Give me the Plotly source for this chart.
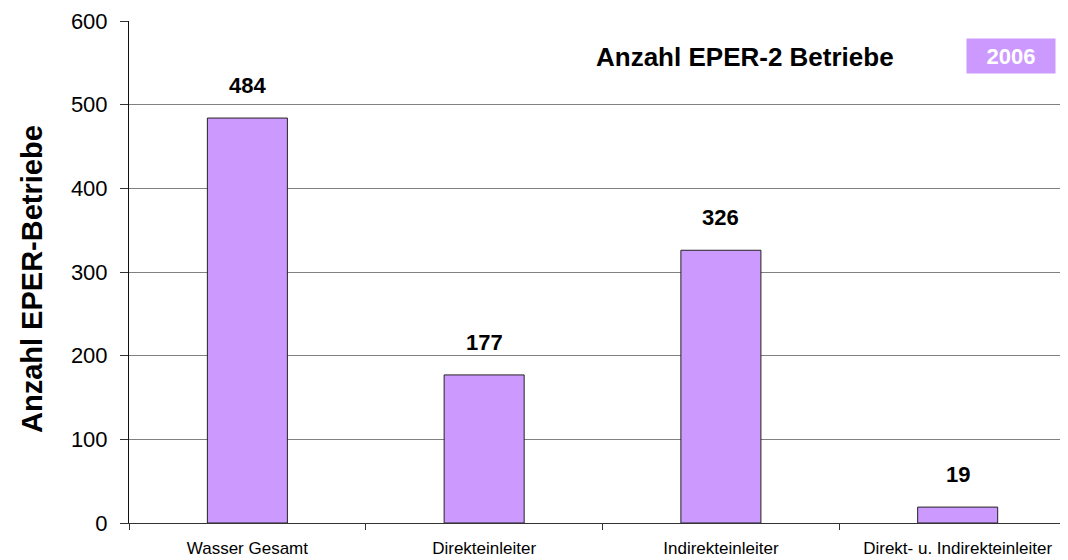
import plotly.graph_objects as go

categories = ["Wasser Gesamt", "Direkteinleiter", "Indirekteinleiter", "Direkt- u. Indirekteinleiter"]
values = [484, 177, 326, 19]
y_ticks = [0, 100, 200, 300, 400, 500, 600]
y_title = "Anzahl EPER-Betriebe"
chart_title = "Anzahl EPER-2 Betriebe"
year_label = "2006"

fig = go.Figure()
fig.add_trace(go.Bar(
    x=categories, y=values, width=0.338,
    marker=dict(color="#CC99FF", line=dict(color="#222222", width=1)),
    hoverinfo="x+y",
))

for c, v in zip(categories, values):
    fig.add_annotation(x=c, y=v, text=f"<b>{v}</b>", showarrow=False,
                       yanchor="bottom", yshift=18,
                       font=dict(family="Liberation Sans, Arial", size=22, color="black"))

fig.add_annotation(xref="paper", yref="paper", x=0.656, y=0.928, text=f"<b>{chart_title}</b>",
                   showarrow=False, xanchor="center", yanchor="middle",
                   font=dict(family="Liberation Sans, Arial", size=26, color="black"))
fig.add_annotation(xref="paper", yref="paper", x=(1011 - 129) / 939, y=(523 - 56) / 502,
                   text=f"<b>{year_label}</b>", showarrow=False, xanchor="center", yanchor="middle",
                   bgcolor="#CC99FF", width=84, height=30, borderpad=2,
                   font=dict(family="Liberation Sans, Arial", size=22, color="white"))
# y-axis title as a rotated annotation (slightly below the plot centre, as in the reference)
fig.add_annotation(xref="paper", yref="paper", x=-(129 - 32) / 939, y=(523 - 279) / 502,
                   text=f"<b>{y_title}</b>", showarrow=False, textangle=-90,
                   xanchor="center", yanchor="middle",
                   font=dict(family="Liberation Sans, Arial", size=29, color="black"))

# page body has an 8px margin: compensate so the plot area lands where the reference has it
fig.update_layout(
    width=1060, height=552,
    margin=dict(l=121, r=0, t=13, b=37),
    paper_bgcolor="#FFFFFF", plot_bgcolor="#FFFFFF",
    showlegend=False,
    font=dict(family="Liberation Sans, Arial", color="black"),
    xaxis=dict(
        type="category", range=[-0.5, 3.466], automargin=False,
        tickson="boundaries", ticks="outside", ticklen=6, tickcolor="#333333",
        showline=True, linecolor="#333333", linewidth=1,
        showgrid=False, tickfont=dict(size=17), ticklabelstandoff=10, fixedrange=True,
    ),
    yaxis=dict(
        range=[0, 600], tickvals=y_ticks, ticks="outside", ticklen=8, tickcolor="#333333",
        automargin=False,
        showline=True, linecolor="#111111", linewidth=1,
        showgrid=True, gridcolor="#808080", gridwidth=1, zeroline=False,
        tickfont=dict(size=22), ticklabelstandoff=8,
    ),
)

fig.write_html("out.html")
